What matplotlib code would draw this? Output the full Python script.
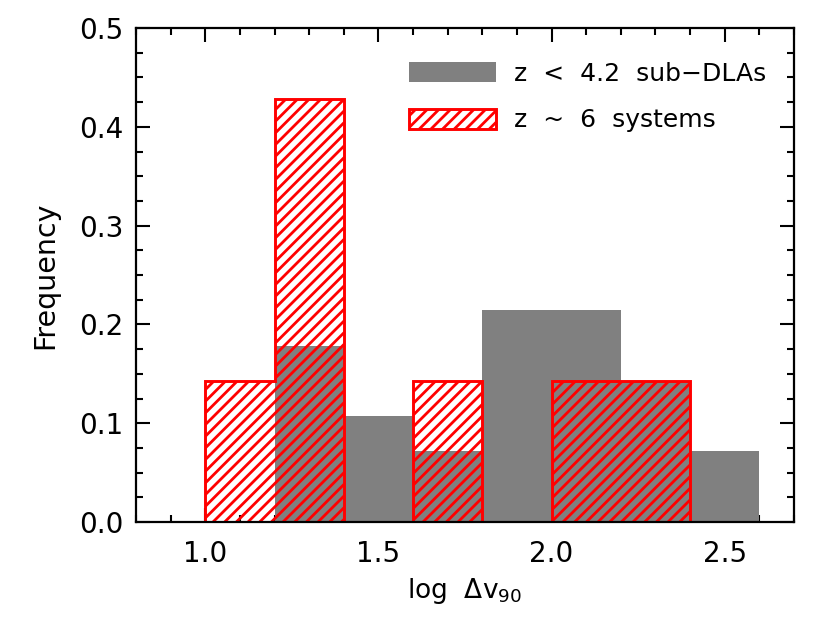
import matplotlib
matplotlib.use("Agg")
import matplotlib.pyplot as plt
from matplotlib.patches import Patch
from matplotlib.ticker import MultipleLocator

# Data: histogram bin edges and frequencies (bin width 0.2)
subdla_edges = [1.2, 1.4, 1.6, 1.8, 2.0, 2.2, 2.4, 2.6]
subdla_freq = [5/28, 3/28, 2/28, 6/28, 6/28, 4/28, 2/28]
z6_edges = [1.0, 1.2, 1.4, 1.6, 1.8, 2.0, 2.2, 2.4]
z6_freq = [1/7, 3/7, 0.0, 1/7, 0.0, 1/7, 1/7]
label_subdla = "z  <  4.2  sub\u2212DLAs"
label_z6 = "z  ~  6  systems"
xticks = [1.0, 1.5, 2.0, 2.5]
yticks = [0.0, 0.1, 0.2, 0.3, 0.4, 0.5]

DPI = 140
F = 100 / DPI  # convert sizes designed at 100 dpi

plt.rcParams['font.family'] = ['DejaVu Sans']
plt.rcParams['mathtext.fontset'] = 'dejavusans'
plt.rcParams['hatch.linewidth'] = 2.0 * F

fig = plt.figure(figsize=(830 / DPI, 623 / DPI), dpi=DPI)
ax = fig.add_axes([136/830, 1-522/623, (794-136)/830, (522-28)/623])

ax.stairs(subdla_freq, subdla_edges, baseline=0, fill=True,
          facecolor='#808080', edgecolor='none', linewidth=0, zorder=2)
ax.stairs(z6_freq, z6_edges, baseline=0, fill=True, facecolor='none',
          edgecolor='#ff0000', hatch='////', linewidth=2.1 * F, zorder=3)

ax.set_xlim(0.8, 2.7)
ax.set_ylim(0.0, 0.5)
ax.set_xticks(xticks)
ax.set_xticklabels([f"{v:.1f}" for v in xticks])
ax.set_yticks(yticks)
ax.set_yticklabels([f"{v:.1f}" for v in yticks])
ax.xaxis.set_minor_locator(MultipleLocator(0.1))
ax.yaxis.set_minor_locator(MultipleLocator(0.025))
ax.tick_params(which='both', direction='in', top=True, right=True,
               width=1.5 * F, labelsize=20 * F)
ax.tick_params(which='major', length=10 * F)
ax.tick_params(which='minor', length=5 * F)
ax.tick_params(axis='x', which='major', pad=13 * F)
ax.tick_params(axis='y', which='major', pad=9 * F)
for s in ax.spines.values():
    s.set_linewidth(1.6 * F)
    s.set_zorder(5)

ax.set_xlabel(r"log  $\Delta$v$_{90}$", fontsize=19 * F, labelpad=6 * F)
ax.set_ylabel("Frequency", fontsize=20.5 * F, labelpad=14 * F)

handles = [Patch(facecolor='#808080', edgecolor='none', label=label_subdla),
           Patch(facecolor='none', edgecolor='#ff0000', hatch='////',
                 linewidth=2.1 * F, label=label_z6)]
ax.legend(handles=handles, loc='upper right',
          bbox_to_anchor=((766-136)/658, (522-62)/494),
          frameon=False, fontsize=18 * F, handlelength=3.5, handleheight=0.85,
          handletextpad=0.7, labelspacing=0.9, borderaxespad=0, borderpad=0)

fig.savefig("out.png", dpi=DPI)
